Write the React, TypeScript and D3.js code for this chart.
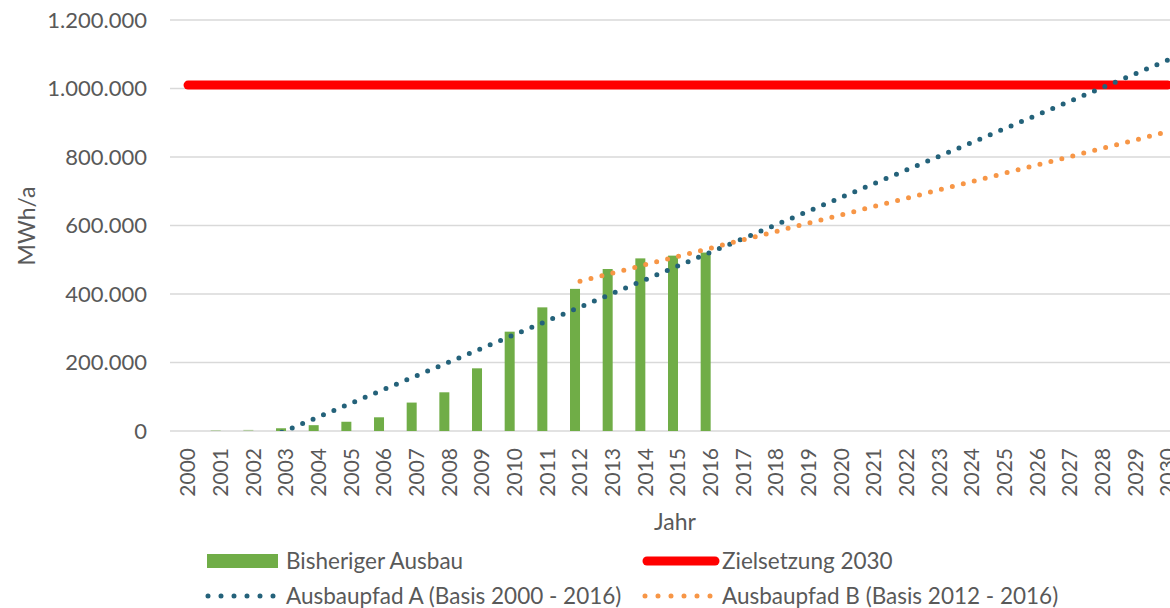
import React from "react";
import * as d3 from "d3";

// categories + values
const years = d3.range(2000, 2031).map(String);
const ausbau = [0, 2500, 3500, 8000, 17000, 27000, 40000, 83000, 113000, 183000, 290000, 361000, 415000, 473000, 504000, 512000, 521000];
const ausbauYears = years.slice(0, ausbau.length);
const yTicks = [0, 200000, 400000, 600000, 800000, 1000000, 1200000];

// trendlines and target, as end points
const zielsetzung = [ { year: 2000, value: 1010000 }, { year: 2030, value: 1010000 } ];
const pfadA = [ { year: 2000, value: -119000 }, { year: 2030, value: 1083000 } ];
const pfadB = [ { year: 2012, value: 437000 }, { year: 2030, value: 874000 } ];

const legendItems = [
  { label: "Bisheriger Ausbau", kind: "bar" },
  { label: "Zielsetzung 2030", kind: "red" },
  { label: "Ausbaupfad A (Basis 2000 - 2016)", kind: "dotA" },
  { label: "Ausbaupfad B (Basis 2012 - 2016)", kind: "dotB" },
];

const WIDTH = 1170;
const HEIGHT = 608;
const textColor = "#595959";
const gridColor = "#D9D9D9";
const green = "#70AD47";
const red = "#FF0000";
const blue = "#24627A";
const orange = "#F79646";
const font = "Lato, 'Open Sans', sans-serif";

const fmt = (v: number) => d3.format(",")(v).replace(/,/g, ".");

export default function App() {
  const plot = { left: 166.7, right: 1179.3, top: 20, bottom: 431 };

  const x = d3.scaleBand().domain(years).range([plot.left, plot.right]).padding(0);
  const bw = x.bandwidth();
  const cx = (yr: number | string) => (x(String(yr)) as number) + bw / 2;
  // lines & labels sit on the category centre, bars are shifted left a bit (excel offset)
  const lineOff = 5;
  const y = d3.scaleLinear().domain([0, 1200000]).range([plot.bottom, plot.top]);

  const line = d3.line<{ year: number; value: number }>().x(d => cx(d.year) + lineOff).y(d => y(d.value));

  const barW = 10;

  return (
    <svg width={WIDTH} height={HEIGHT} style={{ position: "absolute", left: 0, top: 0, background: "#fff" }} fontFamily={font}>
      <defs>
        <clipPath id="plotclip">
          <rect x={plot.left} y={plot.top - 10} width={plot.right - plot.left} height={plot.bottom - plot.top + 10} />
        </clipPath>
      </defs>

      {/* grid */}
      {yTicks.map(t => (
        <g key={t}>
          <line x1={170} x2={WIDTH} y1={y(t)} y2={y(t)} stroke={gridColor} strokeWidth={1.5} />
          <text x={147} y={y(t)} dy="0.36em" textAnchor="end" fontSize={22} fill={textColor}>{fmt(t)}</text>
        </g>
      ))}

      {/* bars */}
      {ausbau.map((v, i) => (
        <rect key={ausbauYears[i]} x={cx(ausbauYears[i]) - barW / 2} y={y(v)} width={barW} height={plot.bottom - y(v)}
          fill={green} opacity={v < 5000 ? 0.4 : 1} />
      ))}

      {/* lines */}
      <g clipPath="url(#plotclip)">
        <path d={line(zielsetzung) as string} stroke={red} strokeWidth={9} strokeLinecap="round" fill="none" />
        <path d={line(pfadA) as string} stroke={blue} strokeWidth={5} strokeDasharray="0 11.3" strokeLinecap="round" fill="none" />
        <path d={line(pfadB) as string} stroke={orange} strokeWidth={5} strokeDasharray="0 11.3" strokeLinecap="round" fill="none" />
      </g>

      {/* x tick labels */}
      {years.map(yr => (
        <text key={yr} transform={`translate(${cx(yr) + 5},448) rotate(-90)`} dy="0.35em" textAnchor="end" fontSize={21} fill={textColor}>{yr}</text>
      ))}

      {/* axis titles */}
      <text x={675} y={530} textAnchor="middle" fontSize={23} fill={textColor}>Jahr</text>
      <text transform="translate(35,226) rotate(-90)" textAnchor="middle" fontSize={23} fill={textColor}>MWh/a</text>

      {/* legend */}
      {legendItems.map((it, i) => {
        const col = i % 2;
        const row = Math.floor(i / 2);
        const sx = col === 0 ? 206 : 643;
        const cy = row === 0 ? 561 : 596;
        const tx = col === 0 ? 286 : 722;
        let sym;
        if (it.kind === "bar") sym = <rect x={sx + 1} y={cy - 7} width={71} height={14} fill={green} />;
        else if (it.kind === "red") sym = <line x1={sx + 4} x2={sx + 72} y1={cy} y2={cy} stroke={red} strokeWidth={9} strokeLinecap="round" />;
        else sym = <line x1={sx + 2} x2={sx + 68} y1={cy} y2={cy} stroke={it.kind === "dotA" ? blue : orange} strokeWidth={5} strokeDasharray="0 13" strokeLinecap="round" />;
        return (
          <g key={it.label}>
            {sym}
            <text x={tx} y={cy} dy="0.36em" fontSize={22.5} fill={textColor}>{it.label}</text>
          </g>
        );
      })}
    </svg>
  );
}
